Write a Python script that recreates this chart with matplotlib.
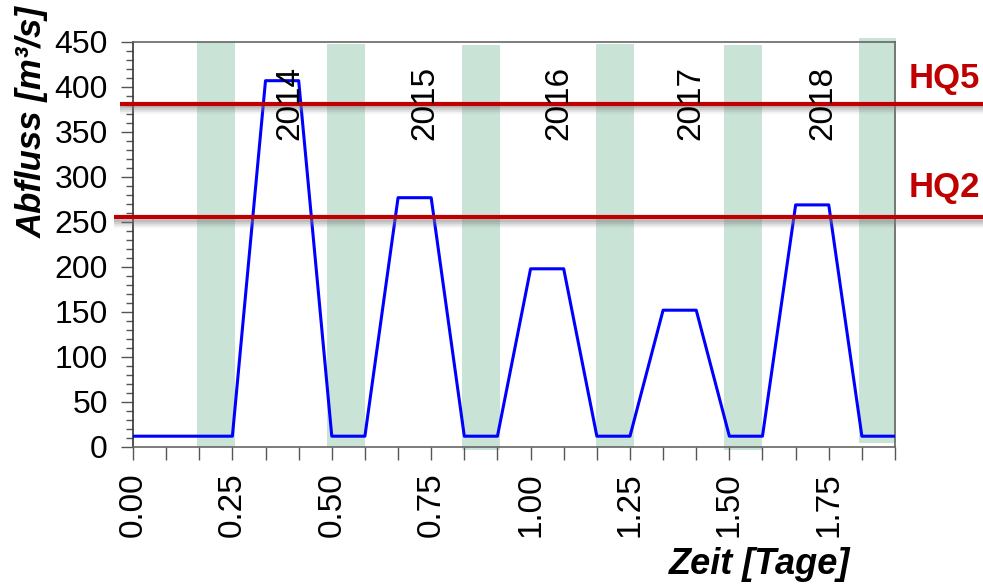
import numpy as np
import matplotlib
matplotlib.use("Agg")
import matplotlib.pyplot as plt
import matplotlib.patheffects as pe
from matplotlib.ticker import MultipleLocator, FixedLocator, FuncFormatter

plt.rcParams['font.family'] = ['Liberation Sans', 'DejaVu Sans']

# Abfluss-Ganglinie (Zeit in Tagen, Abfluss in m3/s)
zeit = [0.0, 0.25, 0.3333, 0.4167, 0.5, 0.5833, 0.6667, 0.75, 0.8333, 0.9167,
        1.0, 1.0833, 1.1667, 1.25, 1.3333, 1.4167, 1.5, 1.5833, 1.6667, 1.75,
        1.8333, 1.9167]
abfluss = [12, 12, 407, 407, 12, 12, 277, 277, 12, 12,
           198, 198, 12, 12, 152, 152, 12, 12, 269, 269,
           12, 12]

# gruene Bereiche
span_start = [0.161, 0.488, 0.828, 1.165, 1.487, 1.825]
span_end = [0.257, 0.584, 0.924, 1.261, 1.583, 1.918]
span_bottom = [0, 0, -3, 0, -3, 4]
span_top = [450, 448, 447, 448, 447, 454]

years = ["2014", "2015", "2016", "2017", "2018"]
year_x = [0.395, 0.735, 1.07, 1.402, 1.734]

hq_names = ["HQ5", "HQ2"]
hq_values = [381, 255]
hq_start = [-0.033, -0.048]
hq_label_y = [399, 278]

fig = plt.figure(figsize=(9.83, 5.84), dpi=100)
ax = fig.add_axes([0.1353, 0.2346, 0.7752, 0.6935])

for s, e, b, t in zip(span_start, span_end, span_bottom, span_top):
    ax.bar(s, t - b, width=e - s, bottom=b, align='edge', color='#c9e3d7',
           edgecolor='none', zorder=1, clip_on=False)

ax.plot(zeit, abfluss, color='#0000ff', lw=2.2, zorder=3)

# weicher Schatten unter den HQ-Linien
shadow = [pe.SimpleLineShadow(offset=(0, -k), shadow_color='#808080', alpha=a)
          for k, a in [(1.5, 0.35), (3, 0.25), (4.5, 0.15), (6, 0.08)]]
for name, val, x0, ly in zip(hq_names, hq_values, hq_start, hq_label_y):
    ax.plot([x0, 2.2], [val, val], color='#c00000', lw=3, zorder=4,
            clip_on=False, solid_capstyle='butt',
            path_effects=shadow + [pe.Normal()])
    ax.text(1.951, ly, name, color='#c00000', fontsize=25, fontweight='bold',
            ha='left', va='baseline', clip_on=False)

for yr, x in zip(years, year_x):
    ax.text(x, 423, yr, rotation=90, ha='center', va='top', fontsize=24, zorder=5)

ax.set_xlim(0, 23 / 12)
ax.set_ylim(0, 450)

ax.xaxis.set_major_locator(FixedLocator([k / 12 for k in range(0, 24, 3)]))
ax.xaxis.set_minor_locator(FixedLocator([k / 12 for k in range(24) if k % 3]))
ax.xaxis.set_major_formatter(FuncFormatter(lambda v, p: f"{v:.2f}"))
ax.yaxis.set_major_locator(MultipleLocator(50))
ax.yaxis.set_minor_locator(MultipleLocator(10))

ax.tick_params(axis='x', which='both', direction='out', length=9, width=1,
               color='#555555', labelsize=24, pad=9, labelrotation=90)
ax.tick_params(axis='y', which='major', direction='out', length=9, width=1,
               color='#555555', labelsize=23, pad=9)
ax.tick_params(axis='y', which='minor', direction='out', length=5, width=1,
               color='#555555')

for side in ['top', 'right', 'bottom']:
    ax.spines[side].set_color('#666666')
    ax.spines[side].set_linewidth(1.2)
ax.spines['left'].set_color('#333333')
ax.spines['left'].set_linewidth(1.2)

fig.text(32 / 983, 1 - 122 / 584, "Abfluss [m³/s]", rotation=90, ha='center',
         va='center', fontsize=25, fontweight='bold', fontstyle='italic')
fig.text(760 / 983, 1 - 565 / 584, "Zeit [Tage]", ha='center', va='center',
         fontsize=26, fontweight='bold', fontstyle='italic')

fig.savefig("out.png", dpi=100)
